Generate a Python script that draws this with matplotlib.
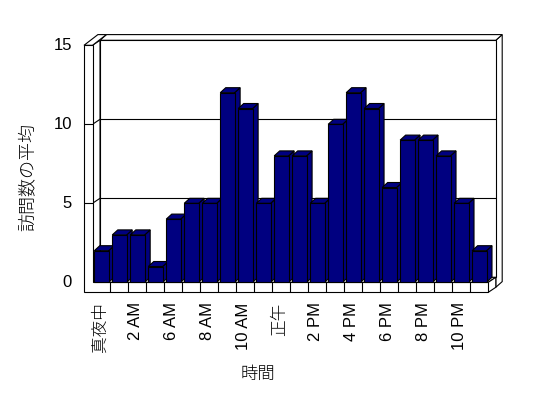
import matplotlib
matplotlib.use('Agg')
import matplotlib.pyplot as plt
from matplotlib.patches import Polygon
from matplotlib.transforms import offset_copy

plt.rcParams['font.family'] = ['Liberation Sans', 'Noto Sans CJK JP']

# ---- data ----
hours = [0, 1, 2, 3, 6, 7, 8, 9, 10, 11, 12, 13, 14, 15, 16, 17, 18, 19, 20, 21, 22, 23]
visits = [2, 3, 3, 1, 4, 5, 5, 12, 11, 5, 8, 8, 5, 10, 12, 11, 6, 9, 9, 8, 5, 2]
hour_labels = ['真夜中', '1 AM', '2 AM', '3 AM', '6 AM', '7 AM', '8 AM', '9 AM', '10 AM',
               '11 AM', '正午', '1 PM', '2 PM', '3 PM', '4 PM', '5 PM', '6 PM', '7 PM',
               '8 PM', '9 PM', '10 PM', '11 PM']
y_ticks = [0, 5, 10, 15]
y_title = '訪問数の平均'
x_title = '時間'

# ---- figure / axes (front plane of the 3-D box) ----
W, H = 548, 398
fig = plt.figure(figsize=(W / 100, H / 100), dpi=100)
fig.patch.set_facecolor('white')
left_px, right_px, bot_px, top_px = 92.5, 488.3, 282.3, 45.3
ax = fig.add_axes([left_px / W, 1 - bot_px / H, (right_px - left_px) / W, (bot_px - top_px) / H])
n = len(visits)
ymax = y_ticks[-1]
ax.set_xlim(0, n)
ax.set_ylim(0, ymax)
ax.axis('off')

ux = n / (right_px - left_px)      # data units per pixel (x)
uy = ymax / (bot_px - top_px)      # data units per pixel (y)

D1 = (7.5, 5.0)    # front plane -> back wall face
D2 = (6.4, 5.7)    # back wall thickness
D12 = (D1[0] + D2[0], D1[1] + D2[1])
B = (5.5, 5.0)     # bar depth
F = 10 * uy        # floor thickness
xL = -8.5 * ux     # left wall thickness
ZERO = (0, 0)


def P(x, y, d=ZERO):
    return (x + d[0] * ux, y + d[1] * uy)


lw = 0.8
z = [1]


def poly(pts, fc='white', ec='black'):
    ax.add_patch(Polygon(pts, closed=True, fc=fc, ec=ec, lw=lw, zorder=z[0],
                         clip_on=False, joinstyle='miter'))
    z[0] += 1


def line(p0, p1):
    ax.plot([p0[0], p1[0]], [p0[1], p1[1]], color='black', lw=lw, zorder=z[0],
            clip_on=False, solid_capstyle='butt')
    z[0] += 1


# back wall right face and top face
poly([P(n, -F, D1), P(n, ymax, D1), P(n, ymax, D12), P(n, -F, D12)])
poly([P(0, ymax, D1), P(n, ymax, D1), P(n, ymax, D12), P(0, ymax, D12)])
# back wall front face with gridlines
poly([P(0, 0, D1), P(n, 0, D1), P(n, ymax, D1), P(0, ymax, D1)])
for v in y_ticks[1:-1]:
    line(P(0, v, D1), P(n, v, D1))
# left wall inner face with gridlines
poly([P(0, 0), P(0, 0, D1), P(0, ymax, D1), P(0, ymax)])
for v in y_ticks[1:-1]:
    line(P(0, v), P(0, v, D1))
# floor top and right face
poly([P(0, 0), P(n, 0), P(n, 0, D1), P(0, 0, D1)])
poly([P(n, -F), P(n, 0), P(n, 0, D1), P(n, -F, D1)])
# left wall top face
poly([P(xL, ymax), P(0, ymax), P(0, ymax, D12), P(xL, ymax, D12)])
# front L-shaped face (left wall + floor)
poly([P(xL, -F), P(xL, ymax), P(0, ymax), P(0, 0), P(n, 0), P(n, -F)])
for v in y_ticks[1:-1]:
    line(P(xL, v), P(0, v))
for k in range(1, n):
    line(P(k, -F), P(k, 0))

# bars
bw = 0.8
navy = '#000080'
for i, v in enumerate(visits):
    x0 = i + (1 - bw) / 2
    x1 = x0 + bw
    poly([P(x1, 0), P(x1, v), P(x1, v, B), P(x1, 0, B)], fc=navy)
    poly([P(x0, v), P(x1, v), P(x1, v, B), P(x0, v, B)], fc=navy)
    poly([P(x0, 0), P(x1, 0), P(x1, v), P(x0, v)], fc=navy)

# y tick labels
tr_y = offset_copy(ax.transData, fig=fig, x=-12, y=0, units='dots')
for v in y_ticks:
    ax.text(xL, v, str(v), transform=tr_y, ha='right', va='center', fontsize=12)

# x tick labels (every other category)
tr_x = offset_copy(ax.transData, fig=fig, x=-1.5, y=-10, units='dots')
for i, lab in enumerate(hour_labels):
    if i % 2 == 0:
        ax.text(i + 0.5, -F, lab, transform=tr_x, rotation=90, ha='center', va='top',
                fontsize=12, fontweight='light')

fig.text(258 / W, 1 - 374.5 / H, x_title, ha='center', va='center', fontsize=12.5,
         fontweight='light')
fig.text(28 / W, 1 - 177 / H, y_title, ha='center', va='center', rotation=90, fontsize=13,
         fontweight='light')

fig.savefig('out.png', dpi=100, facecolor='white')
